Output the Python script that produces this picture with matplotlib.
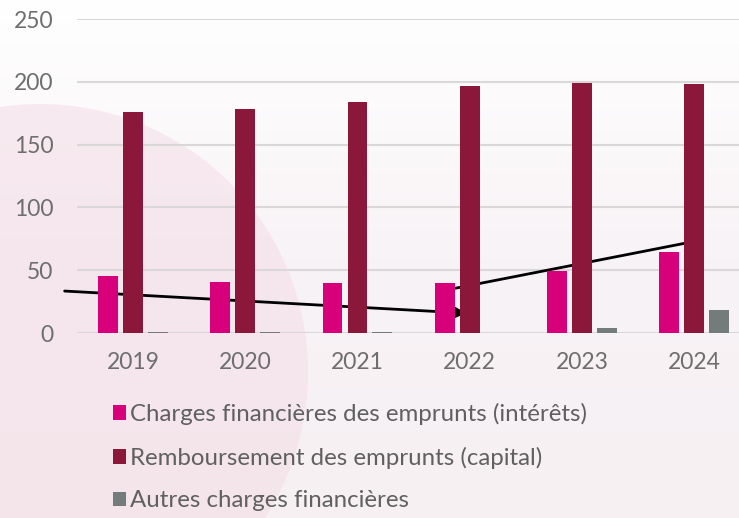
import numpy as np
import matplotlib.pyplot as plt
from matplotlib.patches import Circle
from matplotlib.colors import LinearSegmentedColormap

years = ['2019', '2020', '2021', '2022', '2023', '2024']
interets = [45, 40.5, 39.5, 39.5, 49.5, 64.5]
capital = [176, 178, 184, 196.5, 199, 198.5]
autres = [1, 1, 0.8, 0, 4, 18.5]
labels = ['Charges financières des emprunts (intérêts)',
          'Remboursement des emprunts (capital)',
          'Autres charges financières']
colors = ['#d8007a', '#8b183b', '#747b7b']

# decorative trend arrows (data coords)
trend_down = [(-0.61, 33.4), (2.97, 15.8)]
trend_up = [(2.75, 33.5), (4.95, 72)]

plt.rcParams['font.family'] = ['Lato', 'DejaVu Sans']

fig = plt.figure(figsize=(7.39, 5.18), dpi=100)
fig.patch.set_facecolor('#f7f2f5')

# background decoration
bg = fig.add_axes([0, 0, 1, 1], zorder=-10)
bg.set_xlim(0, 739)
bg.set_ylim(518, 0)
bg.axis('off')
grad = np.linspace(0, 1, 256).reshape(-1, 1)
cmap = LinearSegmentedColormap.from_list('bgc', ['#ffffff', '#f8f3f6', '#f6f0f3'])
bg.imshow(grad, extent=[0, 739, 518, 0], cmap=cmap, aspect='auto')
bg.add_patch(Circle((40, 372), 268, color='#f3dde6', alpha=0.55, lw=0))

ax = fig.add_axes([77 / 739, 1 - 333 / 518, 662 / 739 * 1.01, 314 / 518])
ax.set_facecolor('none')
x = np.arange(len(years))
w = 0.176
step = 0.222
b1 = ax.bar(x - step, interets, w, color=colors[0], zorder=3, label=labels[0])
b2 = ax.bar(x, capital, w, color=colors[1], zorder=3, label=labels[1])
b3 = ax.bar(x + step, autres, w, color=colors[2], zorder=3, label=labels[2])

ax.annotate('', xy=trend_down[1], xytext=trend_down[0],
            arrowprops=dict(arrowstyle='-|>', color='black', lw=2, mutation_scale=18,
                            shrinkA=0, shrinkB=0),
            annotation_clip=False, zorder=2)
ax.plot([p[0] for p in trend_up], [p[1] for p in trend_up], color='black', lw=2, zorder=2)

ax.set_xlim(-0.5, 5.46)
ax.set_ylim(0, 250)
ax.set_yticks([0, 50, 100, 150, 200, 250])
ax.set_xticks(x)
ax.set_xticklabels(years)
ax.grid(axis='y', color='#d9d7d8', lw=1.5, zorder=0)
ax.set_axisbelow(True)
for s in ax.spines.values():
    s.set_visible(False)
ax.tick_params(length=0, labelsize=16.5, labelcolor='#6e6e6e')
ax.tick_params(axis='y', pad=17)
ax.tick_params(axis='x', pad=14)

leg = fig.legend(handles=[b1, b2, b3], loc='upper left', bbox_to_anchor=(113 / 739, 1 - 403 / 518),
                 frameon=False, fontsize=17.3, handlelength=0.55, handleheight=0.55,
                 handletextpad=0.15, labelspacing=0.9, borderpad=0, borderaxespad=0)
for t in leg.get_texts():
    t.set_color('#606060')

plt.savefig('out.png', dpi=100, facecolor=fig.get_facecolor())
